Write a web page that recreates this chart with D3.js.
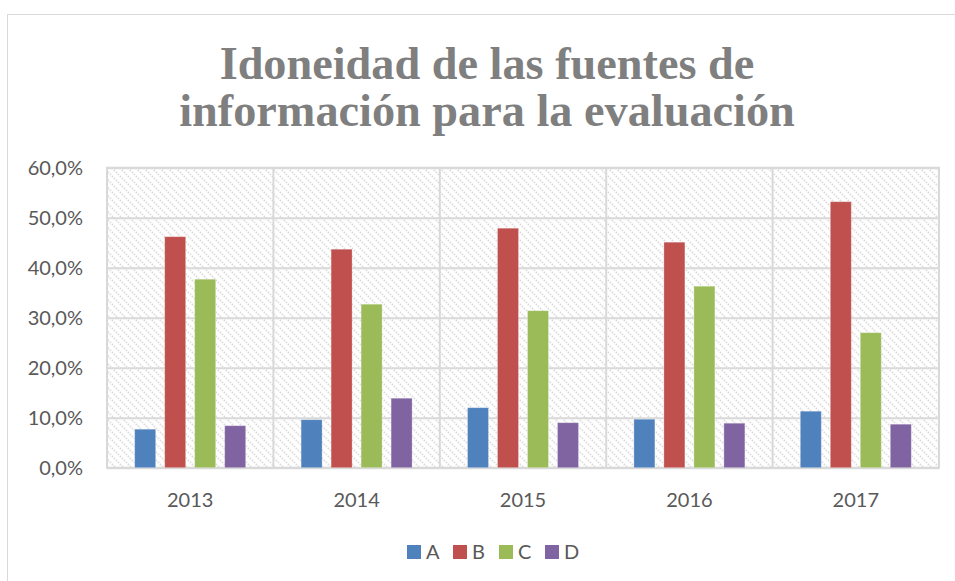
<!DOCTYPE html>
<html>
<head>
<meta charset="utf-8">
<script src="https://cdn.jsdelivr.net/npm/d3@7"></script>
<style>
  html, body { margin: 0; padding: 0; background: #fff; }
  svg { display: block; }
</style>
</head>
<body>
<svg id="chart" width="955" height="581"></svg>
<script>
const titleLines = ["Idoneidad de las fuentes de", "información para la evaluación"];
const years = ["2013", "2014", "2015", "2016", "2017"];
const seriesNames = ["A", "B", "C", "D"];
const seriesColors = ["#4F81BD", "#C0504D", "#9BBB59", "#8064A2"];
const valuesA = [7.7, 9.6, 12.0, 9.7, 11.3];
const valuesB = [46.2, 43.7, 47.9, 45.1, 53.2];
const valuesC = [37.7, 32.7, 31.4, 36.3, 27.0];
const valuesD = [8.4, 13.9, 9.0, 8.9, 8.7];
const yTicks = [0, 10, 20, 30, 40, 50, 60];

const seriesValues = [valuesA, valuesB, valuesC, valuesD];
const svg = d3.select("#chart");
const labelFont = "Lato, 'Open Sans', sans-serif";

// chart area border
svg.append("rect").attr("x", 7.5).attr("y", 14.5).attr("width", 960).attr("height", 600)
  .attr("fill", "#fff").attr("stroke", "#d9d9d9").attr("stroke-width", 1);

// pattern
const defs = svg.append("defs");
const pat = defs.append("pattern").attr("id", "hatch").attr("patternUnits", "userSpaceOnUse")
  .attr("width", 8).attr("height", 8);
pat.append("rect").attr("width", 8).attr("height", 8).attr("fill", "#fff");
pat.append("path").attr("d", "M-2,-2 L10,10 M-2,6 L2,10 M6,-2 L10,2")
  .attr("stroke", "#dcdcdc").attr("stroke-width", 2).attr("stroke-dasharray", "1.4,1.4");

const plot = { left: 107, right: 939, top: 167.7, bottom: 467.7 };

const x0 = d3.scaleBand().domain(years).range([plot.left, plot.right]).padding(0);
const groupPad = 27.7;
const x1 = d3.scaleBand().domain(seriesNames)
  .range([groupPad, x0.bandwidth() - groupPad]).paddingInner(0.3).paddingOuter(0);
const y = d3.scaleLinear().domain([0, 60]).range([plot.bottom, plot.top]);

// plot background
svg.append("rect").attr("x", plot.left).attr("y", plot.top)
  .attr("width", plot.right - plot.left).attr("height", plot.bottom - plot.top)
  .attr("fill", "url(#hatch)");

// gridlines horizontal + y labels
const yAxis = d3.axisLeft(y).tickValues(yTicks)
  .tickFormat(d => d3.format(".1f")(d).replace(".", ",") + "%")
  .tickSize(-(plot.right - plot.left)).tickPadding(24);
const gy = svg.append("g").attr("transform", `translate(${plot.left},0)`).call(yAxis);
gy.select(".domain").remove();
gy.selectAll(".tick line").attr("stroke", "#d9d9d9").attr("stroke-width", 2);
gy.selectAll(".tick text").attr("fill", "#595959")
  .style("font-family", labelFont).style("font-size", "20px");

// x labels
const xAxis = d3.axisBottom(x0).tickSize(0).tickPadding(25);
const gx = svg.append("g").attr("transform", `translate(0,${plot.bottom})`).call(xAxis);
gx.select(".domain").remove();
gx.selectAll(".tick text").attr("fill", "#595959")
  .style("font-family", labelFont).style("font-size", "20px");

// vertical category separators
svg.append("g").selectAll("line").data(years.concat(["end"])).join("line")
  .attr("x1", (d, i) => i < years.length ? x0(d) : plot.right)
  .attr("x2", (d, i) => i < years.length ? x0(d) : plot.right)
  .attr("y1", plot.top).attr("y2", plot.bottom)
  .attr("stroke", "#d9d9d9").attr("stroke-width", 2);

// plot border
svg.append("rect").attr("x", plot.left).attr("y", plot.top)
  .attr("width", plot.right - plot.left).attr("height", plot.bottom - plot.top)
  .attr("fill", "none").attr("stroke", "#d9d9d9").attr("stroke-width", 2);

// bars
const groups = svg.append("g").selectAll("g").data(years).join("g")
  .attr("transform", d => `translate(${x0(d)},0)`);
groups.selectAll("rect")
  .data((yr, i) => seriesNames.map((s, j) => ({ s, j, v: seriesValues[j][i] })))
  .join("rect")
  .attr("x", d => x1(d.s))
  .attr("width", x1.bandwidth())
  .attr("y", d => y(d.v))
  .attr("height", d => y(0) - y(d.v))
  .attr("fill", d => seriesColors[d.j])
  .attr("stroke", "#ffffff").attr("stroke-opacity", 0.35).attr("stroke-width", 0.8);

// title
const tl = svg.append("g").selectAll("text").data(titleLines).join("text")
  .attr("x", 487).attr("y", (d, i) => 79 + i * 47)
  .attr("text-anchor", "middle")
  .attr("fill", "#7f7f7f")
  .style("font-family", "'Liberation Serif', 'DejaVu Serif', serif")
  .style("font-weight", "bold")
  .style("font-size", "44px")
  .text(d => d);
const targetW = 535;
const w0 = tl.node().getComputedTextLength();
tl.style("font-size", (44 * targetW / w0) + "px");

// legend
const legend = svg.append("g").attr("transform", "translate(407,545)");
const li = legend.selectAll("g").data(seriesNames).join("g")
  .attr("transform", (d, i) => `translate(${i * 46},0)`);
li.append("rect").attr("width", 14).attr("height", 14)
  .attr("fill", (d, i) => seriesColors[i]);
li.append("text").attr("x", 19).attr("y", 7).attr("dy", "0.36em")
  .attr("fill", "#595959")
  .style("font-family", labelFont).style("font-size", "20px")
  .text(d => d);
</script>
</body>
</html>
